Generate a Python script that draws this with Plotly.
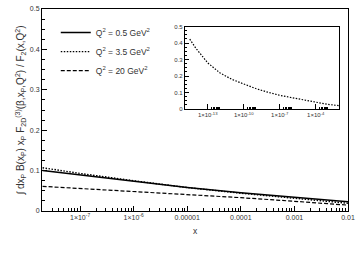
import plotly.graph_objects as go

# ---- data ----
x_main = [2e-8, 1e-7, 1e-6, 1e-5, 1e-4, 1e-3, 1e-2]
y_q05 = [0.100, 0.089, 0.073, 0.058, 0.045, 0.033, 0.0226]
y_q35 = [0.107, 0.093, 0.075, 0.058, 0.044, 0.031, 0.019]
y_q20 = [0.061, 0.056, 0.048, 0.041, 0.033, 0.024, 0.0145]

x_inset = [3.2e-15, 1e-14, 1e-13, 1e-12, 1e-11, 1e-10, 1e-9, 1e-8, 1e-7,
           1e-6, 1e-5, 1e-4, 1e-3, 1e-2]
y_inset = [0.424, 0.37, 0.28, 0.22, 0.18, 0.15, 0.124, 0.102, 0.083,
           0.069, 0.056, 0.041, 0.028, 0.02]

main_tickvals = [1e-7, 1e-6, 1e-5, 1e-4, 1e-3, 1e-2]
main_ticktext = ["1×10<sup>-7</sup>", "1×10<sup>-6</sup>", "0.00001",
                 "0.0001", "0.001", "0.01"]
inset_tickvals = [1e-13, 1e-10, 1e-7, 1e-4]
inset_ticktext = ["1×10<sup>-13</sup>", "1×10<sup>-10</sup>",
                  "1×10<sup>-7</sup>", "1×10<sup>-4</sup>"]

legend_names = ["Q<sup>2</sup> = 0.5 GeV<sup>2</sup>",
                "Q<sup>2</sup> = 3.5 GeV<sup>2</sup>",
                "Q<sup>2</sup> = 20 GeV<sup>2</sup>"]

FONT = "Liberation Sans, Arial, sans-serif"
TXT = "#333333"

main_minor = [m * 10.0 ** e for e in range(-8, -2) for m in range(2, 10)]
inset_minor = [m * d for d in inset_tickvals for m in range(2, 10)]

fig = go.Figure()
fig.add_trace(go.Scatter(x=x_main, y=y_q05, mode="lines", name=legend_names[0],
                         line=dict(color="black", width=1.5, dash="solid")))
fig.add_trace(go.Scatter(x=x_main, y=y_q35, mode="lines", name=legend_names[1],
                         line=dict(color="black", width=1.4, dash="1.5px,1.5px")))
fig.add_trace(go.Scatter(x=x_main, y=y_q20, mode="lines", name=legend_names[2],
                         line=dict(color="black", width=1.2, dash="4px,2px")))
fig.add_trace(go.Scatter(x=x_inset, y=y_inset, mode="lines", showlegend=False,
                         xaxis="x2", yaxis="y2",
                         line=dict(color="black", width=1.2, dash="1.5px,1.5px")))

axis_common = dict(showgrid=False, zeroline=False, showline=True,
                   linecolor="black", linewidth=1, mirror=True,
                   ticks="inside", tickcolor="black")

fig.update_layout(
    width=360, height=254,
    margin=dict(l=42, r=12, t=5, b=43),
    paper_bgcolor="white", plot_bgcolor="white",
    font=dict(family=FONT, size=7, color=TXT),
    xaxis=dict(type="log", range=[-7.71, -2], tickvals=main_tickvals,
               ticktext=main_ticktext, ticklen=5,
               minor=dict(tickvals=main_minor, ticks="inside", ticklen=3,
                          tickcolor="black"),
               tickfont=dict(family=FONT, size=7, color=TXT),
               title=dict(text="x", font=dict(family=FONT, size=8.5, color=TXT),
                          standoff=7),
               **axis_common),
    yaxis=dict(range=[0, 0.5], dtick=0.1, ticklen=5,
               minor=dict(dtick=0.025, ticks="inside", ticklen=3,
                          tickcolor="black"),
               tickfont=dict(family=FONT, size=7, color=TXT),
               title=dict(text="∫ dx<sub>P</sub> B(x<sub>P</sub>) x<sub>P</sub> F<sub>2D</sub><sup>(3)</sup>(β,x<sub>P</sub>,Q<sup>2</sup>) / F<sub>2</sub>(x,Q<sup>2</sup>)",
                          font=dict(family=FONT, size=10, color=TXT), standoff=3),
               **axis_common),
    xaxis2=dict(type="log", range=[-14.9, -2.05], domain=[0.467, 0.971],
                anchor="y2", tickvals=inset_tickvals, ticktext=inset_ticktext,
                ticklen=5,
                minor=dict(tickvals=inset_minor, ticks="inside", ticklen=2,
                           tickcolor="black"),
                tickfont=dict(family=FONT, size=6, color=TXT),
                **axis_common),
    yaxis2=dict(range=[0, 0.5], dtick=0.1, domain=[0.505, 0.913],
                anchor="x2", ticklen=4,
                minor=dict(dtick=0.025, ticks="inside", ticklen=2,
                           tickcolor="black"),
                tickfont=dict(family=FONT, size=6, color=TXT),
                **axis_common),
    legend=dict(x=0.045, y=0.955, xanchor="left", yanchor="top",
                bgcolor="rgba(0,0,0,0)", font=dict(family=FONT, size=8.5, color=TXT),
                itemwidth=30, tracegroupgap=0),
    showlegend=True,
)

fig.write_html("out.html", config={"displayModeBar": False},
               post_script="document.body.style.margin='0';")
